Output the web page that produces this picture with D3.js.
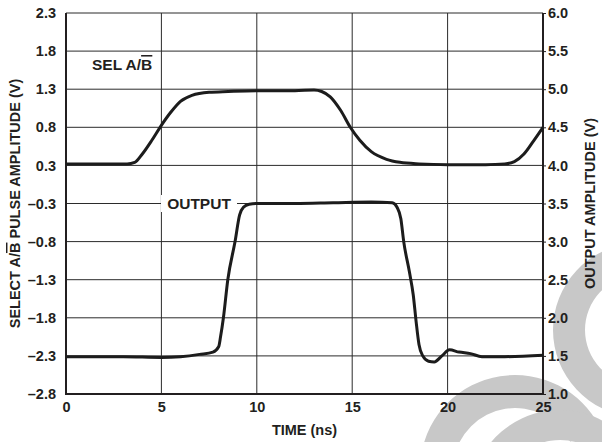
<!DOCTYPE html>
<html>
<head>
<meta charset="utf-8">
<script src="https://cdn.jsdelivr.net/npm/d3@7"></script>
<style>
  body { margin: 0; background: #fff; }
  text { font-family: "Liberation Sans", Arial, sans-serif; font-weight: bold; fill: #231f20; }
</style>
</head>
<body>
<svg id="chart" width="602" height="442"></svg>
<script>
width = 602;
height = 442;
margin = {left: 66, right: 59, top: 13, bottom: 48};

// time axis (ns)
xTicks = [0, 5, 10, 15, 20, 25];

// left axis labels as printed (top to bottom)
leftLabels = ['2.3', '1.8', '1.3', '0.8', '0.3', '–0.3', '–0.8', '–1.3', '–1.8', '–2.3', '–2.8'];
// right axis
rightTicks = [6.0, 5.5, 5.0, 4.5, 4.0, 3.5, 3.0, 2.5, 2.0, 1.5, 1.0];

// SEL A/B pulse (left axis, V)
selTime = [0, 2, 3.2, 3.6, 4.0, 4.5, 4.93, 5.5, 6.0, 6.6, 7.5, 8.5, 10, 12, 13.0, 13.4, 13.85, 14.4, 14.9, 15.4, 16.0, 16.8, 17.5, 18.5, 20, 22, 23.0, 23.5, 24.0, 24.5, 25];
selVolt = [0.32, 0.32, 0.32, 0.34, 0.45, 0.63, 0.80, 1.0, 1.14, 1.22, 1.26, 1.27, 1.28, 1.28, 1.29, 1.27, 1.2, 1.02, 0.80, 0.63, 0.48, 0.38, 0.34, 0.32, 0.31, 0.31, 0.32, 0.35, 0.45, 0.62, 0.80];

// output (right axis, V)
outTime = [0, 3, 5, 6, 7.0, 7.7, 8.0, 8.1, 8.25, 8.48, 8.86, 9.1, 9.3, 9.6, 10, 12, 14, 16, 17.1, 17.35, 17.55, 17.7, 18.0, 18.2, 18.35, 18.5, 18.7, 19.0, 19.3, 19.7, 20.1, 20.6, 21.2, 21.8, 23, 25];
outVolt = [1.49, 1.49, 1.48, 1.49, 1.52, 1.55, 1.62, 1.75, 2.0, 2.5, 3.0, 3.35, 3.45, 3.49, 3.5, 3.5, 3.51, 3.52, 3.51, 3.45, 3.3, 3.0, 2.6, 2.3, 1.95, 1.65, 1.5, 1.43, 1.42, 1.5, 1.58, 1.55, 1.53, 1.49, 1.49, 1.51];

svg = d3.select('#chart');

x = d3.scaleLinear().domain([0, 25]).range([margin.left, width - margin.right]);
yL = d3.scaleLinear().domain([-2.7, 2.3]).range([height - margin.bottom, margin.top]);
yR = d3.scaleLinear().domain([1, 6]).range([height - margin.bottom, margin.top]);

leftVals = leftLabels.map((d, i) => 2.3 - 0.5 * i);

// grey watermark swooshes in the lower right corner
wm = svg.append('g').attr('fill', '#c8c8c8');
wm.append('path').attr('transform', 'translate(640,330)')
  .attr('d', d3.arc()({innerRadius: 55, outerRadius: 87, startAngle: Math.PI * 1.02, endAngle: Math.PI * 1.98}));
wm.append('path').attr('transform', 'translate(515,470)')
  .attr('d', d3.arc()({innerRadius: 62, outerRadius: 95, startAngle: -Math.PI * 0.45, endAngle: Math.PI * 0.35}));
wm.append('path').attr('transform', 'translate(560,500)')
  .attr('d', d3.arc()({innerRadius: 60, outerRadius: 90, startAngle: -Math.PI * 0.4, endAngle: Math.PI * 0.3}));

// grid
grid = svg.append('g').attr('stroke', '#2b2b2b').attr('stroke-width', 1);
grid.selectAll('.h').data(rightTicks).enter().append('line')
  .attr('x1', x(0)).attr('x2', x(25))
  .attr('y1', d => yR(d)).attr('y2', d => yR(d));
grid.selectAll('.v').data(xTicks).enter().append('line')
  .attr('y1', yR(1)).attr('y2', yR(6))
  .attr('x1', d => x(d)).attr('x2', d => x(d));

// frame
svg.append('path')
  .attr('d', `M${x(0)},${yR(6)} V${yR(1)} H${x(25)} V${yR(6)}`)
  .attr('fill', 'none').attr('stroke', '#231f20').attr('stroke-width', 2);

// left axis
leftAxis = d3.axisLeft(yL).tickValues(leftVals).tickSize(0).tickPadding(10)
  .tickFormat((d, i) => leftLabels[i]);
svg.append('g').attr('transform', `translate(${x(0)},0)`).call(leftAxis)
  .call(g => g.select('.domain').remove())
  .selectAll('text').style('font-size', '14.5px').attr('font-family', null);

// right axis
rightAxis = d3.axisRight(yR).tickValues(rightTicks).tickSize(3).tickPadding(2)
  .tickFormat(d3.format('.1f'));
svg.append('g').attr('transform', `translate(${x(25)},0)`).call(rightAxis)
  .call(g => g.select('.domain').remove())
  .call(g => g.selectAll('line').attr('stroke', '#231f20'))
  .selectAll('text').style('font-size', '14.5px').attr('font-family', null);

// bottom axis
bottomAxis = d3.axisBottom(x).tickValues(xTicks).tickSize(0).tickPadding(8);
svg.append('g').attr('transform', `translate(0,${yR(1)})`).call(bottomAxis)
  .call(g => g.select('.domain').remove())
  .selectAll('text').style('font-size', '14.5px').attr('font-family', null);

// curves
line = d3.line().curve(d3.curveMonotoneX);
svg.append('path')
  .attr('d', line(selTime.map((t, i) => [x(t), yL(selVolt[i])])))
  .attr('fill', 'none').attr('stroke', '#1c1c1c').attr('stroke-width', 3)
  .attr('stroke-linejoin', 'round');
svg.append('path')
  .attr('d', line(outTime.map((t, i) => [x(t), yR(outVolt[i])])))
  .attr('fill', 'none').attr('stroke', '#1c1c1c').attr('stroke-width', 3)
  .attr('stroke-linejoin', 'round');

// curve labels
svg.append('rect').attr('x', 161).attr('y', 195).attr('width', 76).attr('height', 17).attr('fill', '#fff');
svg.append('text').attr('x', 199).attr('y', 209).attr('text-anchor', 'middle')
  .style('font-size', '15.5px').text('OUTPUT');

sel = svg.append('text').attr('x', 92).attr('y', 70).style('font-size', '15.5px');
sel.append('tspan').text('SEL A/');
sel.append('tspan').style('text-decoration', 'overline').text('B');

// axis titles
lt = svg.append('text')
  .attr('transform', `translate(20,${(yR(1) + yR(6)) / 2}) rotate(-90)`)
  .attr('text-anchor', 'middle').style('font-size', '14.5px');
lt.append('tspan').text('SELECT A/');
lt.append('tspan').style('text-decoration', 'overline').text('B');
lt.append('tspan').text(' PULSE AMPLITUDE (V)');

svg.append('text')
  .attr('transform', `translate(595,${(yR(1) + yR(6)) / 2}) rotate(-90)`)
  .attr('text-anchor', 'middle').style('font-size', '14.5px')
  .text('OUTPUT AMPLITUDE (V)');

svg.append('text').attr('x', (x(0) + x(25)) / 2).attr('y', 435)
  .attr('text-anchor', 'middle').style('font-size', '14.5px').text('TIME (ns)');
</script>
</body>
</html>
